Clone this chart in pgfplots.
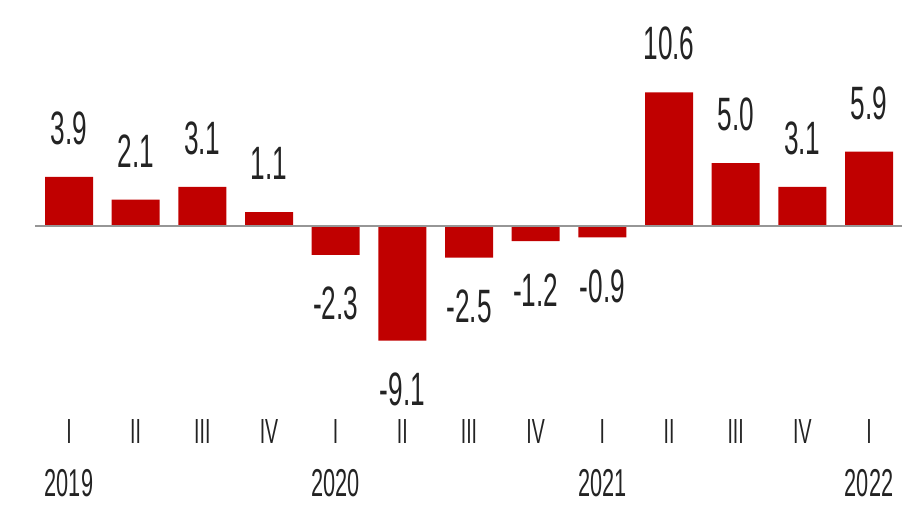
\documentclass[border=0pt]{standalone}
\usepackage{pgfplots}
\pgfplotsset{compat=1.18}
\usepackage{fontspec}
\setmainfont[FakeStretch=0.56]{Liberation Sans}
\definecolor{barred}{RGB}{192,0,0}
\definecolor{zerogray}{RGB}{150,150,150}
\definecolor{txt}{RGB}{35,35,35}
\begin{document}
\begin{tikzpicture}
\begin{axis}[
    scale only axis,
    width=918bp, height=510bp,
    xmin=-1.035, xmax=12.735,
    ymin=-22.54, ymax=17.94,
    axis line style={draw=none},
    ytick=\empty,
    xtick={0,...,12},
    xticklabels={I,II,III,IV,I,II,III,IV,I,II,III,IV,I},
    major tick length=0pt,
    xticklabel style={anchor=center, yshift=78bp, text=txt,
        font=\fontsize{35}{35}\selectfont},
    extra x ticks={0,4,8,12},
    extra x tick labels={2019,2020,2021,2022},
    extra x tick style={xticklabel style={yshift=-51bp,
        font=\fontsize{39}{39}\selectfont}},
    clip=false,
    every axis plot/.append style={bar width=48bp, bar shift=0pt},
    every node near coord/.append style={font=\fontsize{47}{47}\selectfont,
        text=txt, inner ysep=32bp, inner xsep=0pt},
    point meta=explicit symbolic,
]
% quarterly growth, % -- rising quarters
\addplot[ybar, fill=barred, draw=none,
    nodes near coords, nodes near coords align={above}]
coordinates {
    (0,3.9) [3.9]
    (1,2.1) [2.1]
    (2,3.1) [3.1]
    (3,1.1) [1.1]
    (9,10.6) [10.6]
    (10,5.0) [5.0]
    (11,3.1) [3.1]
    (12,5.9) [5.9]
};
% falling quarters
\addplot[ybar, fill=barred, draw=none,
    nodes near coords, nodes near coords align={below}]
coordinates {
    (4,-2.3) [-2.3]
    (5,-9.1) [-9.1]
    (6,-2.5) [-2.5]
    (7,-1.2) [-1.2]
    (8,-0.9) [-0.9]
};
% zero line
\addplot[zerogray, line width=2.5bp, forget plot] coordinates {(-0.51,0) (12.5,0)};
\end{axis}
\pgfresetboundingbox
\useasboundingbox (current axis.south west) rectangle (current axis.north east);
\end{tikzpicture}
\end{document}
